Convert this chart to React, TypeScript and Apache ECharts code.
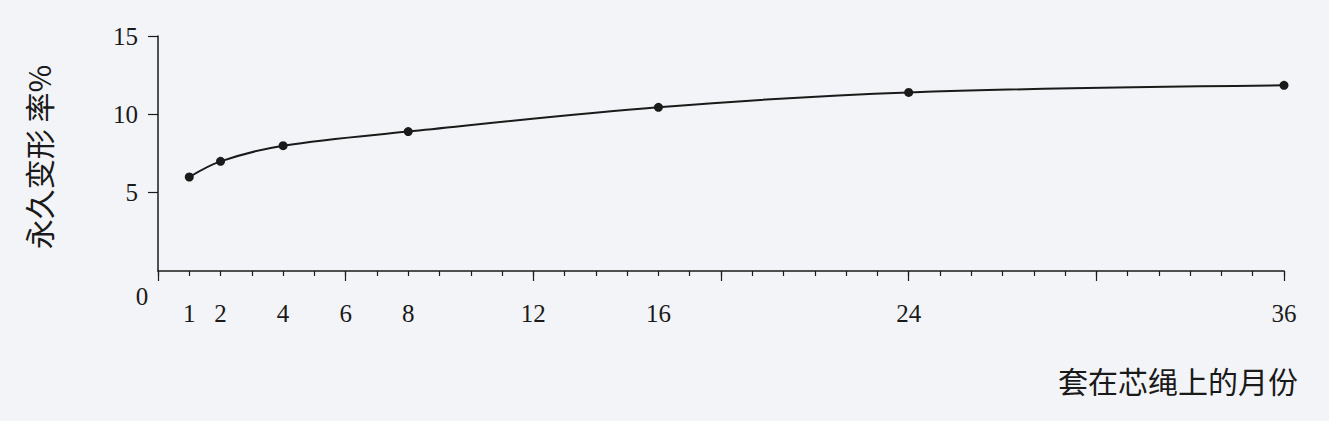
import React, { useEffect, useRef } from "react";
import * as echarts from "echarts";

const months = [1, 2, 4, 8, 16, 24, 36];
const deformation = [6.0, 7.0, 8.0, 8.9, 10.45, 11.4, 11.85];
const xTickLabels = [1, 2, 4, 6, 8, 12, 16, 24, 36];
const yTickLabels = [5, 10, 15];
const yTitle = "永久变形 率%";
const xTitle = "套在芯绳上的月份";

export default function App() {
  const ref = useRef<HTMLDivElement>(null);
  useEffect(() => {
    document.body.style.margin = "0";
    const chart = echarts.init(ref.current!, null, { renderer: "svg" });
    const serif = "'Liberation Serif', 'DejaVu Serif', serif";
    const cjk = "'Noto Sans CJK SC', sans-serif";
    const ink = "#1a1a1a";
    chart.setOption({
      animation: false,
      backgroundColor: "#f3f4f7",
      grid: { left: 158, right: 45, top: 36, bottom: 150 },
      xAxis: [
        {
          type: "value",
          min: 0,
          max: 36,
          interval: 1,
          splitLine: { show: false },
          axisLine: { lineStyle: { color: ink, width: 1.5 } },
          axisTick: { length: 5, lineStyle: { color: ink, width: 1.2 } },
          axisLabel: {
            margin: 30,
            fontFamily: serif,
            fontSize: 25,
            color: ink,
            showMinLabel: true,
            showMaxLabel: true,
            formatter: (v: number) => (xTickLabels.includes(v) ? String(v) : ""),
          },
        },
        {
          type: "value",
          min: 0,
          max: 36,
          interval: 6,
          position: "bottom",
          splitLine: { show: false },
          axisLine: { show: false },
          axisTick: { length: 10, lineStyle: { color: ink, width: 1.2 } },
          axisLabel: { show: false },
        },
      ],
      yAxis: {
        type: "value",
        min: 0,
        max: 15,
        interval: 5,
        splitLine: { show: false },
        axisLine: { show: true, lineStyle: { color: ink, width: 1.5 } },
        axisTick: {
          show: true,
          length: 10,
          customValues: yTickLabels,
          lineStyle: { color: ink, width: 1.2 },
        },
        axisLabel: {
          margin: 20,
          fontFamily: serif,
          fontSize: 25,
          color: ink,
          customValues: yTickLabels,
          formatter: (v: number) => String(v),
        },
      },
      graphic: [
        {
          type: "text",
          x: 142,
          y: 296,
          style: { text: "0", font: `25px ${serif}`, fill: ink, align: "center", verticalAlign: "middle" },
        },
        {
          type: "text",
          x: 38,
          y: 157,
          rotation: Math.PI / 2,
          style: { text: yTitle, font: `30px ${cjk}`, fill: ink, align: "center", verticalAlign: "middle" },
        },
        {
          type: "text",
          x: 1298,
          y: 380,
          style: { text: xTitle, font: `30px ${cjk}`, fill: ink, align: "right", verticalAlign: "middle" },
        },
      ],
      series: [
        {
          type: "line",
          xAxisIndex: 0,
          data: months.map((m, i) => [m, deformation[i]]),
          smooth: 0.35,
          symbol: "circle",
          symbolSize: 9,
          itemStyle: { color: ink },
          lineStyle: { color: ink, width: 2 },
        },
      ],
    });
    return () => chart.dispose();
  }, []);
  return <div ref={ref} style={{ width: 1329, height: 421 }} />;
}
